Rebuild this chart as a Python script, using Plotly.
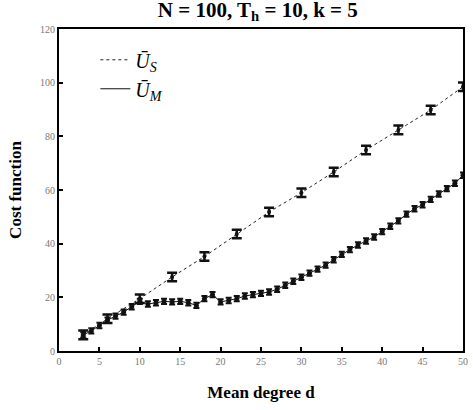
import plotly.graph_objects as go

# Mean degree d for U_M
d_m = list(range(3, 51))
u_m = [6.0, 7.5, 9.5, 11.5, 13.0, 14.5, 16.5, 18.5, 17.5, 18.0,
       18.5, 18.3, 18.5, 18.0, 17.0, 19.5, 21.0, 18.3, 18.8, 19.5,
       20.5, 21.0, 21.5, 22.0, 23.0, 24.5, 26.0, 27.5, 29.0, 30.5,
       32.0, 34.0, 36.0, 37.8, 39.5, 41.0, 42.5, 44.5, 46.5, 48.5,
       51.0, 53.0, 54.5, 56.5, 58.5, 60.5, 62.5, 65.5]
err_m = [1.0] * len(d_m)

# U_S
d_s = [3, 6, 10, 14, 18, 22, 26, 30, 34, 38, 42, 46, 50]
u_s = [6.0, 12.0, 19.5, 27.6, 35.2, 43.6, 51.8, 59.0, 66.7, 74.9, 82.4, 89.8, 98.5]
err_s = [1.6] * len(d_s)

x_ticks = [0, 5, 10, 15, 20, 25, 30, 35, 40, 45, 50]
y_ticks = [0, 20, 40, 60, 80, 100, 120]

serif = "Liberation Serif"

fig = go.Figure()
fig.add_trace(go.Scatter(
    x=d_s, y=u_s, mode="lines", name="<i>Ū<sub>S</sub></i>",
    line=dict(color="#222", width=1, dash="dot"),
))
fig.add_trace(go.Scatter(
    x=d_m, y=u_m, mode="lines", name="<i>Ū<sub>M</sub></i>",
    line=dict(color="#111", width=1),
))
fig.add_trace(go.Scatter(
    x=d_s, y=u_s, mode="markers", showlegend=False,
    marker=dict(size=4, color="#111"),
    error_y=dict(type="data", array=err_s, color="#111", thickness=2.5, width=5),
))
fig.add_trace(go.Scatter(
    x=d_m, y=u_m, mode="markers", showlegend=False,
    marker=dict(size=5, color="#111"),
    error_y=dict(type="data", array=err_m, color="#111", thickness=2, width=3),
))

fig.update_layout(
    width=473, height=410,
    margin=dict(l=59, r=10, t=29, b=59),
    paper_bgcolor="white", plot_bgcolor="white",
    font=dict(family=serif, color="black"),
    title=dict(text="<b>N = 100, T<sub>h</sub> = 10, k = 5</b>", x=0.545, xanchor="center",
               y=0.995, yanchor="top", font=dict(family=serif, size=21, color="black")),
    legend=dict(x=0.09, y=0.965, xanchor="left", yanchor="top",
                bgcolor="rgba(0,0,0,0)", font=dict(family=serif, size=20, color="black")),
    showlegend=True,
)
fig.update_xaxes(
    range=[0, 50], tickvals=x_ticks, ticks="inside", ticklen=4, mirror=True,
    tickcolor="black", tickwidth=1.5,
    showline=True, linecolor="black", linewidth=2, showgrid=False, zeroline=False,
    tickfont=dict(family=serif, size=10, color="#777"),
    title=dict(text="<b>Mean degree d</b>", font=dict(family=serif, size=17, color="black"), standoff=20),
    automargin=False,
)
fig.update_yaxes(
    range=[0, 120], tickvals=y_ticks, ticks="inside", ticklen=4, mirror=True,
    tickcolor="black", tickwidth=1.5,
    showline=True, linecolor="black", linewidth=2, showgrid=False, zeroline=False,
    tickfont=dict(family=serif, size=10, color="#777"),
    title=dict(text="<b>Cost function</b>", font=dict(family=serif, size=17, color="black"), standoff=14),
    automargin=False,
)

fig.write_html("out.html", config={"displayModeBar": False},
               post_script="document.body.style.margin='0';")
